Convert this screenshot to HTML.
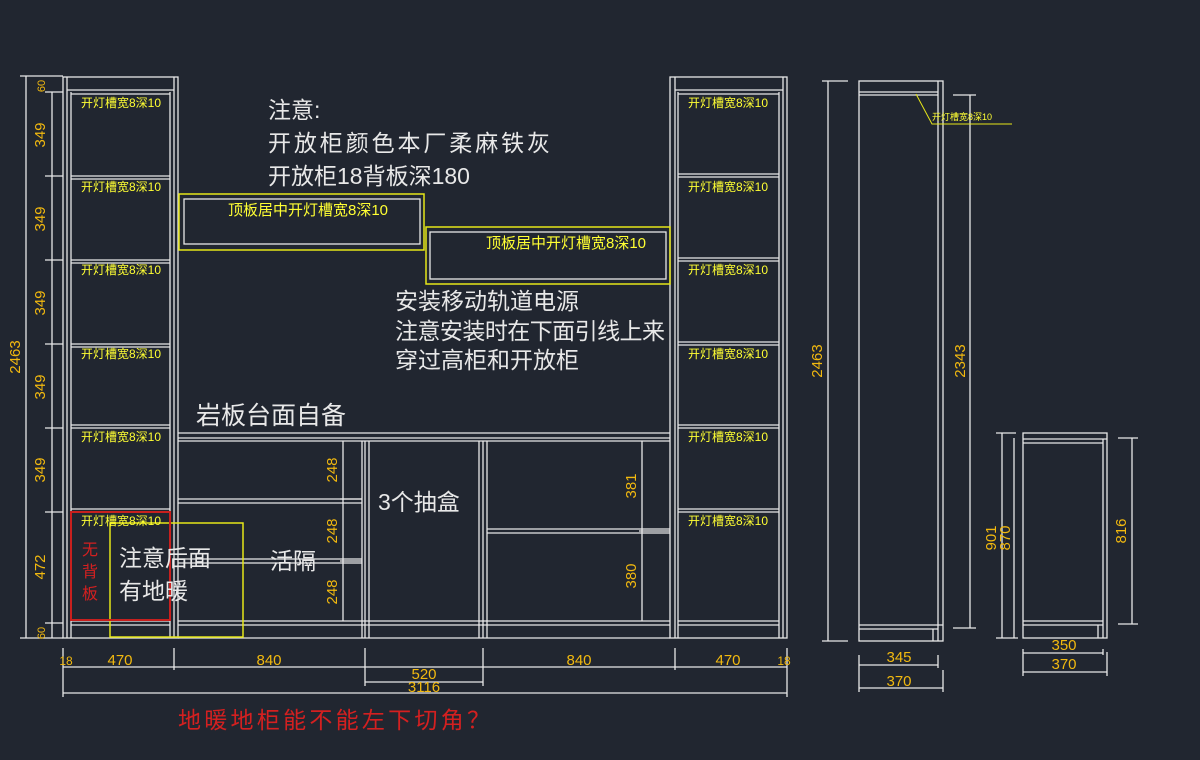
<!DOCTYPE html>
<html><head><meta charset="utf-8"><style>
html,body{margin:0;padding:0;background:#212630;}
svg{display:block}
text{font-family:"Liberation Sans","Noto Sans CJK SC",sans-serif;}
.w{stroke:#e8e8e8;stroke-width:1.3;fill:none}
.y{stroke:#e6e619;stroke-width:1.5;fill:none}
.r{stroke:#c8201e;stroke-width:2;fill:none}
.lab{fill:#ffff33;font-size:12px}
.big{fill:#e8e8e8;font-size:23px}
.dim{fill:#f2b90f;font-size:15px;font-family:"Liberation Sans Narrow","Liberation Sans",sans-serif}
</style></head><body>
<svg width="1200" height="760" viewBox="0 0 1200 760">
<rect width="1200" height="760" fill="#212630"/>
<g class="w">
<!-- left tower -->
<rect x="63" y="77" width="115" height="561"/>
<line x1="67" y1="77" x2="67" y2="638"/><line x1="174" y1="77" x2="174" y2="638"/>
<line x1="71" y1="92" x2="71" y2="638"/><line x1="170" y1="92" x2="170" y2="638"/>
<line x1="67" y1="90" x2="174" y2="90"/><line x1="71" y1="94" x2="170" y2="94"/>
<line x1="71" y1="176" x2="170" y2="176"/><line x1="71" y1="179" x2="170" y2="179"/>
<line x1="71" y1="260" x2="170" y2="260"/><line x1="71" y1="263" x2="170" y2="263"/>
<line x1="71" y1="344" x2="170" y2="344"/><line x1="71" y1="347" x2="170" y2="347"/>
<line x1="71" y1="425" x2="170" y2="425"/><line x1="71" y1="428" x2="170" y2="428"/>
<line x1="71" y1="509" x2="170" y2="509"/><line x1="71" y1="512" x2="170" y2="512"/>
<line x1="71" y1="621" x2="170" y2="621"/><line x1="71" y1="625" x2="170" y2="625"/>
<!-- right tower -->
<rect x="670" y="77" width="117" height="561"/>
<line x1="675" y1="77" x2="675" y2="638"/><line x1="783" y1="77" x2="783" y2="638"/>
<line x1="678" y1="92" x2="678" y2="638"/><line x1="779" y1="92" x2="779" y2="638"/>
<line x1="675" y1="90" x2="783" y2="90"/><line x1="678" y1="94" x2="779" y2="94"/>
<line x1="678" y1="174" x2="779" y2="174"/><line x1="678" y1="177" x2="779" y2="177"/>
<line x1="678" y1="258" x2="779" y2="258"/><line x1="678" y1="261" x2="779" y2="261"/>
<line x1="678" y1="342" x2="779" y2="342"/><line x1="678" y1="345" x2="779" y2="345"/>
<line x1="678" y1="425" x2="779" y2="425"/><line x1="678" y1="428" x2="779" y2="428"/>
<line x1="678" y1="509" x2="779" y2="509"/><line x1="678" y1="512" x2="779" y2="512"/>
<line x1="678" y1="621" x2="779" y2="621"/><line x1="678" y1="625" x2="779" y2="625"/>
<!-- base middle -->
<line x1="178" y1="433" x2="670" y2="433"/><line x1="178" y1="438" x2="670" y2="438"/>
<line x1="178" y1="441" x2="670" y2="441"/>
<line x1="178" y1="638" x2="670" y2="638"/>
<line x1="362" y1="441" x2="362" y2="638"/><line x1="365" y1="441" x2="365" y2="638"/><line x1="369" y1="441" x2="369" y2="638"/>
<line x1="479" y1="441" x2="479" y2="638"/><line x1="483" y1="441" x2="483" y2="638"/><line x1="487" y1="441" x2="487" y2="638"/>
<line x1="178" y1="499" x2="362" y2="499"/><line x1="178" y1="503" x2="362" y2="503"/>
<line x1="178" y1="559" x2="362" y2="559"/><line x1="178" y1="563" x2="362" y2="563"/>
<line x1="178" y1="621" x2="670" y2="621"/><line x1="178" y1="625" x2="670" y2="625"/>
<line x1="487" y1="529" x2="670" y2="529"/><line x1="487" y1="533" x2="670" y2="533"/>
<!-- top boxes inner -->
<rect x="184" y="199" width="236" height="45"/>
<rect x="430" y="232" width="236" height="47"/>
<!-- left dims -->
<line x1="26" y1="76" x2="26" y2="638"/><line x1="52" y1="92" x2="52" y2="638"/>
<line x1="20" y1="76" x2="63" y2="76"/><line x1="20" y1="638" x2="63" y2="638"/>
<line x1="45" y1="92" x2="63" y2="92"/><line x1="45" y1="176" x2="63" y2="176"/><line x1="45" y1="260" x2="63" y2="260"/>
<line x1="45" y1="344" x2="63" y2="344"/><line x1="45" y1="428" x2="63" y2="428"/><line x1="45" y1="512" x2="63" y2="512"/><line x1="45" y1="623" x2="63" y2="623"/>
<!-- middle dims -->
<line x1="343" y1="441" x2="343" y2="621"/><line x1="642" y1="441" x2="642" y2="621"/>
<line x1="340" y1="499" x2="362" y2="499"/><line x1="340" y1="561" x2="362" y2="561"/>
<line x1="639" y1="531" x2="670" y2="531"/>
<!-- bottom dims -->
<line x1="63" y1="667" x2="787" y2="667"/>
<line x1="365" y1="682" x2="483" y2="682"/>
<line x1="63" y1="693" x2="787" y2="693"/>
<line x1="63" y1="648" x2="63" y2="697"/><line x1="174" y1="648" x2="174" y2="670"/>
<line x1="365" y1="648" x2="365" y2="686"/><line x1="483" y1="648" x2="483" y2="686"/>
<line x1="675" y1="648" x2="675" y2="670"/><line x1="787" y1="648" x2="787" y2="697"/>
<!-- tall side view -->
<rect x="859" y="81" width="84" height="560"/>
<line x1="938" y1="81" x2="938" y2="641"/>
<line x1="859" y1="92" x2="938" y2="92"/><line x1="859" y1="95" x2="938" y2="95"/>
<line x1="859" y1="625" x2="943" y2="625"/><line x1="859" y1="629" x2="938" y2="629"/>
<line x1="933" y1="629" x2="933" y2="641"/>
<line x1="828" y1="81" x2="828" y2="641"/><line x1="822" y1="81" x2="848" y2="81"/><line x1="822" y1="641" x2="848" y2="641"/>
<line x1="970" y1="95" x2="970" y2="628"/><line x1="953" y1="95" x2="976" y2="95"/><line x1="953" y1="628" x2="976" y2="628"/>
<line x1="859" y1="655" x2="859" y2="692"/><line x1="938" y1="655" x2="938" y2="668"/><line x1="943" y1="670" x2="943" y2="692"/>
<line x1="859" y1="665" x2="938" y2="665"/><line x1="859" y1="688" x2="943" y2="688"/>
<!-- small cabinet -->
<rect x="1023" y="433" width="84" height="205"/>
<line x1="1103" y1="439" x2="1103" y2="638"/>
<line x1="1023" y1="439" x2="1107" y2="439"/><line x1="1023" y1="443" x2="1103" y2="443"/>
<line x1="1023" y1="621" x2="1103" y2="621"/><line x1="1023" y1="625" x2="1103" y2="625"/>
<line x1="1098" y1="625" x2="1098" y2="638"/>
<line x1="1002" y1="433" x2="1002" y2="638"/><line x1="1014" y1="438" x2="1014" y2="638"/>
<line x1="996" y1="433" x2="1016" y2="433"/><line x1="996" y1="638" x2="1018" y2="638"/>
<line x1="1132" y1="438" x2="1132" y2="624"/><line x1="1118" y1="438" x2="1138" y2="438"/><line x1="1118" y1="624" x2="1138" y2="624"/>
<line x1="1023" y1="649" x2="1023" y2="676"/><line x1="1103" y1="649" x2="1103" y2="655"/><line x1="1107" y1="652" x2="1107" y2="676"/>
<line x1="1023" y1="653" x2="1103" y2="653"/><line x1="1023" y1="672" x2="1107" y2="672"/>
</g>
<!-- yellow boxes -->
<g class="y">
<rect x="179" y="194" width="245" height="56"/>
<rect x="426" y="227" width="244" height="57"/>
<rect x="110" y="523" width="133" height="114"/>
<polyline points="916,94 932,124 1012,124" style="stroke-width:1"/>
</g>
<rect class="r" x="71" y="512" width="99" height="108"/>
<!-- yellow labels -->
<g class="lab">
<text x="81" y="107">开灯槽宽8深10</text><text x="81" y="191">开灯槽宽8深10</text>
<text x="81" y="274">开灯槽宽8深10</text><text x="81" y="358">开灯槽宽8深10</text>
<text x="81" y="441">开灯槽宽8深10</text><text x="81" y="525">开灯槽宽8深10</text>
<text x="688" y="107">开灯槽宽8深10</text><text x="688" y="191">开灯槽宽8深10</text>
<text x="688" y="274">开灯槽宽8深10</text><text x="688" y="358">开灯槽宽8深10</text>
<text x="688" y="441">开灯槽宽8深10</text><text x="688" y="525">开灯槽宽8深10</text>
<text x="228" y="215" style="font-size:15px">顶板居中开灯槽宽8深10</text>
<text x="486" y="248" style="font-size:15px">顶板居中开灯槽宽8深10</text>
<text x="932" y="120" style="font-size:9px">开灯槽宽8深10</text>
</g>
<!-- white text -->
<g class="big">
<text x="268" y="118">注意:</text>
<text x="268" y="151" textLength="282">开放柜颜色本厂柔麻铁灰</text>
<text x="268" y="184">开放柜18背板深180</text>
<text x="395" y="309">安装移动轨道电源</text>
<text x="395" y="339" textLength="270">注意安装时在下面引线上来</text>
<text x="395" y="368">穿过高柜和开放柜</text>
<text x="196" y="424" style="font-size:25px">岩板台面自备</text>
<text x="378" y="510">3个抽盒</text>
<text x="119" y="566">注意后面</text>
<text x="119" y="599">有地暖</text>
<text x="270" y="569">活隔</text>
</g>
<g style="fill:#d42020;font-size:16px">
<text x="82" y="555">无</text><text x="82" y="577">背</text><text x="82" y="599">板</text>
</g>
<text x="178" y="728" style="fill:#d42020;font-size:23px" textLength="312">地暖地柜能不能左下切角？</text>
<!-- dimension numbers -->
<g class="dim">
<text transform="translate(45,135) rotate(-90)" text-anchor="middle">349</text>
<text transform="translate(45,219) rotate(-90)" text-anchor="middle">349</text>
<text transform="translate(45,303) rotate(-90)" text-anchor="middle">349</text>
<text transform="translate(45,387) rotate(-90)" text-anchor="middle">349</text>
<text transform="translate(45,470) rotate(-90)" text-anchor="middle">349</text>
<text transform="translate(45,567) rotate(-90)" text-anchor="middle">472</text>
<text transform="translate(45,633) rotate(-90)" text-anchor="middle" style="font-size:11px">60</text>
<text transform="translate(45,86) rotate(-90)" text-anchor="middle" style="font-size:11px">60</text>
<text transform="translate(20,357) rotate(-90)" text-anchor="middle">2463</text>
<text transform="translate(337,470) rotate(-90)" text-anchor="middle">248</text>
<text transform="translate(337,531) rotate(-90)" text-anchor="middle">248</text>
<text transform="translate(337,592) rotate(-90)" text-anchor="middle">248</text>
<text transform="translate(636,486) rotate(-90)" text-anchor="middle">381</text>
<text transform="translate(636,576) rotate(-90)" text-anchor="middle">380</text>
<text x="66" y="665" text-anchor="middle" style="font-size:12px">18</text>
<text x="120" y="665" text-anchor="middle">470</text>
<text x="269" y="665" text-anchor="middle">840</text>
<text x="424" y="679" text-anchor="middle">520</text>
<text x="424" y="692" text-anchor="middle">3116</text>
<text x="579" y="665" text-anchor="middle">840</text>
<text x="728" y="665" text-anchor="middle">470</text>
<text x="784" y="665" text-anchor="middle" style="font-size:12px">18</text>
<text transform="translate(822,361) rotate(-90)" text-anchor="middle">2463</text>
<text transform="translate(965,361) rotate(-90)" text-anchor="middle">2343</text>
<text x="899" y="662" text-anchor="middle">345</text>
<text x="899" y="686" text-anchor="middle">370</text>
<text transform="translate(996,538) rotate(-90)" text-anchor="middle">901</text>
<text transform="translate(1010,538) rotate(-90)" text-anchor="middle">870</text>
<text transform="translate(1126,531) rotate(-90)" text-anchor="middle">816</text>
<text x="1064" y="650" text-anchor="middle">350</text>
<text x="1064" y="669" text-anchor="middle">370</text>
</g>
</svg>
</body></html>
